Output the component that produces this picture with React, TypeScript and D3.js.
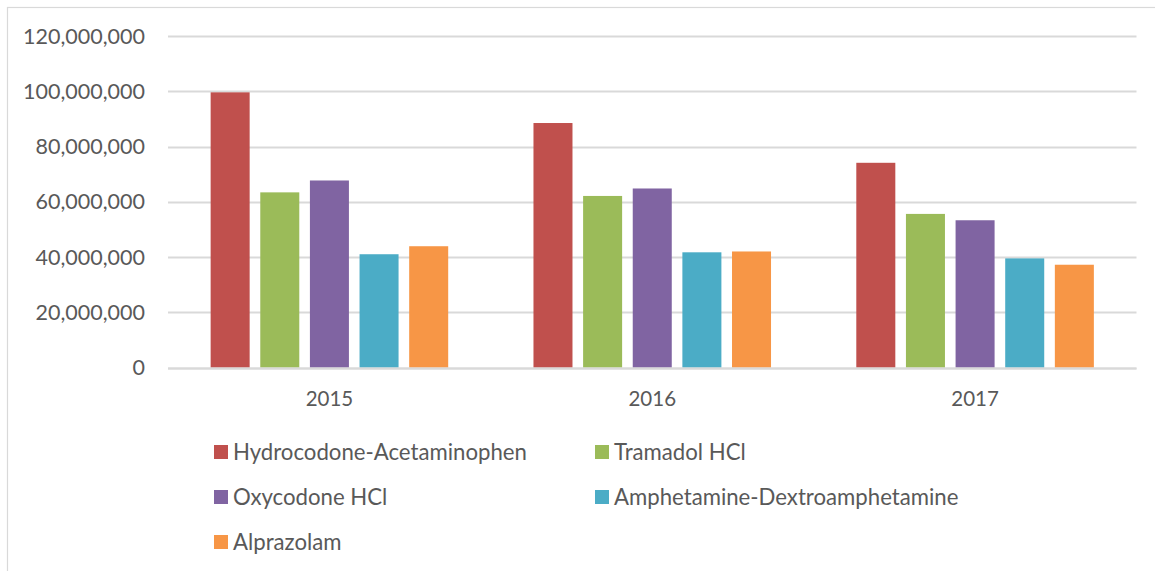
import { useEffect, useRef } from "react";
import * as d3 from "d3";

const years = ["2015", "2016", "2017"];
const drugs = [
    "Hydrocodone-Acetaminophen",
    "Tramadol HCl",
    "Oxycodone HCl",
    "Amphetamine-Dextroamphetamine",
    "Alprazolam",
];
const colors = ["#c0504d", "#9bbb59", "#8064a2", "#4bacc6", "#f79646"];

// prescriptions per year, one array per drug (order of `years`)
const hydrocodone = [99600000, 88500000, 74100000];
const tramadol = [63400000, 62100000, 55600000];
const oxycodone = [67700000, 64800000, 53300000];
const amphetamine = [41000000, 41700000, 39500000];
const alprazolam = [43900000, 42000000, 37200000];
const series = [hydrocodone, tramadol, oxycodone, amphetamine, alprazolam];

const yTicks = [0, 20000000, 40000000, 60000000, 80000000, 100000000, 120000000];

const W = 1155;
const H = 571;
const FONT = "Lato, 'Open Sans', sans-serif";
const TEXT = "#595959";
const GRID = "#d9d9d9";

export default function App() {
    const ref = useRef<SVGSVGElement | null>(null);

    useEffect(() => {
        if (!ref.current) return;
        const svg = d3.select(ref.current);
        svg.selectAll("*").remove();

        const left = 168;
        const right = 1136.5;
        const top = 36;
        const bottom = 367.5;

        // chart frame (only top and left edges fall inside the picture)
        svg.append("rect")
            .attr("x", 7.5)
            .attr("y", 7.5)
            .attr("width", W + 10)
            .attr("height", H + 10)
            .attr("fill", "#fff")
            .attr("stroke", GRID)
            .attr("stroke-width", 1.2);

        const y = d3.scaleLinear().domain([0, 120000000]).range([bottom, top]);
        const x0 = d3.scaleBand().domain(years).range([left, right]).padding(0);
        const x1 = d3
            .scaleBand()
            .domain(drugs)
            .range([0, x0.bandwidth()])
            .paddingInner(0.214)
            .paddingOuter(0.859);

        const fmt = d3.format(",");

        const yAxis = svg.append("g");
        yAxis
            .selectAll("line")
            .data(yTicks)
            .enter()
            .append("line")
            .attr("x1", left)
            .attr("x2", right)
            .attr("y1", d => Math.round(y(d)) + 0.5)
            .attr("y2", d => Math.round(y(d)) + 0.5)
            .attr("stroke", GRID)
            .attr("stroke-width", 1.8);
        yAxis
            .selectAll("text")
            .data(yTicks)
            .enter()
            .append("text")
            .attr("x", 145)
            .attr("y", d => y(d))
            .attr("dy", "0.35em")
            .attr("text-anchor", "end")
            .attr("font-family", FONT)
            .attr("font-size", 21.5)
            .attr("fill", TEXT)
            .text(d => fmt(d));

        const groups = svg
            .append("g")
            .selectAll("g")
            .data(years)
            .enter()
            .append("g")
            .attr("transform", d => `translate(${x0(d)},0)`);

        groups
            .selectAll("rect")
            .data((_, yi) => series.map((s, si) => ({ drug: drugs[si], value: s[yi], color: colors[si] })))
            .enter()
            .append("rect")
            .attr("x", d => x1(d.drug)!)
            .attr("width", x1.bandwidth())
            .attr("y", d => y(d.value))
            .attr("height", d => bottom - y(d.value))
            .attr("fill", d => d.color);

        // baseline redrawn on top
        svg.append("line")
            .attr("x1", left)
            .attr("x2", right)
            .attr("y1", Math.round(bottom) + 0.5)
            .attr("y2", Math.round(bottom) + 0.5)
            .attr("stroke", GRID)
            .attr("stroke-width", 1.8);

        svg.append("g")
            .selectAll("text")
            .data(years)
            .enter()
            .append("text")
            .attr("x", d => x0(d)! + x0.bandwidth() / 2)
            .attr("y", 398.5)
            .attr("dy", "0.35em")
            .attr("text-anchor", "middle")
            .attr("font-family", FONT)
            .attr("font-size", 20.5)
            .attr("fill", TEXT)
            .text(d => d);

        // legend: two columns, three rows
        const legend = svg
            .append("g")
            .selectAll("g")
            .data(drugs)
            .enter()
            .append("g")
            .attr("transform", (_, i) => `translate(${i % 2 === 0 ? 214 : 595},${452 + Math.floor(i / 2) * 45})`);
        legend
            .append("rect")
            .attr("x", 0)
            .attr("y", -7)
            .attr("width", 14)
            .attr("height", 14)
            .attr("fill", (_, i) => colors[i]);
        legend
            .append("text")
            .attr("x", 19)
            .attr("y", 0)
            .attr("dy", "0.35em")
            .attr("font-family", FONT)
            .attr("font-size", 22.2)
            .attr("fill", TEXT)
            .text(d => d);
    }, []);

    return (
        <div style={{ position: "absolute", left: 0, top: 0 }}>
            <svg ref={ref} width={W} height={H} style={{ display: "block" }} />
        </div>
    );
}
